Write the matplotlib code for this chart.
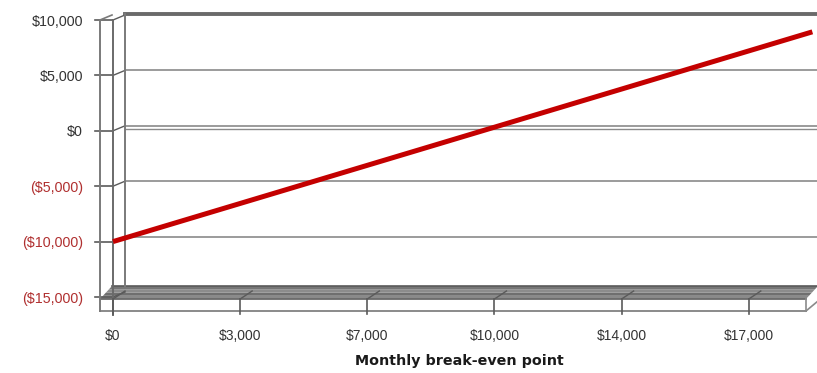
import numpy as np
import matplotlib
matplotlib.use("Agg")
import matplotlib.pyplot as plt
from matplotlib.transforms import IdentityTransform

# break-even data: monthly sales step vs. profit
sales_idx = [0, 1, 2, 3, 4, 5, 6, 7, 8, 9, 10, 11]
profit    = [-10000, -8279, -6558, -4837, -3116, -1395, 326, 2047, 3768, 5489, 7210, 8931]
xtick_idx    = [0, 2, 4, 6, 8, 10]
xtick_labels = ["$0", "$3,000", "$7,000", "$10,000", "$14,000", "$17,000"]
ytick_vals   = [10000, 5000, 0, -5000, -10000, -15000]
ytick_labels = ["$10,000", "$5,000", "$0", "($5,000)", "($10,000)", "($15,000)"]

W, H, DPI = 817, 373, 100
GRID  = "#8a8a8a"
EDGE  = "#5a5a5a"
RED   = "#c40000"
NEG   = "#b03030"
DX, DY = 12, 5          # depth offset of the back wall (pixels)

plt.rcParams["font.family"] = ["Liberation Sans", "DejaVu Sans"]

fig = plt.figure(figsize=(W / DPI, H / DPI), dpi=DPI)
ax = fig.add_axes([113 / W, (H - 297) / H, 693 / W, 277 / H])
ax.set_xlim(0, 10.9)
ax.set_ylim(-15000, 10000)
ax.patch.set_alpha(0)
for s in ax.spines.values():
    s.set_visible(False)

ax.set_yticks(ytick_vals)
ax.set_yticklabels(ytick_labels, fontsize=10.3)
for lab, v in zip(ax.get_yticklabels(), ytick_vals):
    lab.set_color(NEG if v < 0 else "#333333")
ax.set_xticks(xtick_idx)
ax.set_xticklabels(xtick_labels, fontsize=10, color="#333333")
ax.tick_params(axis="y", length=0, pad=21.5)
ax.tick_params(axis="x", length=0, pad=23)
ax.set_xlabel("Monthly break-even point", fontsize=10.3, fontweight="bold",
              family=["DejaVu Sans"], color="#1a1a1a", labelpad=8)


def px(xi, v):
    # data -> display pixels
    return ax.transData.transform((xi, v))


def seg(xs, ys, **kw):
    kw.setdefault("color", GRID)
    kw.setdefault("lw", 1.2)
    ax.plot(xs, ys, transform=IdentityTransform(), clip_on=False, **kw)


x0, _ = px(0, 0)
xend, _ = px(10.9, 0)
_, yfl = px(0, -15000)
_, ytop = px(0, 10000)

# floor top face, shaded in bands
fy = yfl - 2
FD = 13
shades = ["#8a8a8a", "#6f6f6f", "#8c8c8c", "#767676"]
for k, c in enumerate(shades):
    a = k / len(shades)
    b = (k + 1) / len(shades)
    poly = plt.Polygon([[x0 - 13 + DX * a, fy + FD * a], [xend + DX * a, fy + FD * a],
                        [xend + DX * b, fy + FD * b], [x0 - 13 + DX * b, fy + FD * b]],
                       closed=True, facecolor=c, edgecolor="none",
                       transform=IdentityTransform(), clip_on=False, zorder=1)
    ax.add_patch(poly)
seg([x0 - 13 + DX, xend + DX], [fy + FD, fy + FD], color=EDGE, lw=1.2)
# floor front face
seg([x0 - 13, xend], [fy - 12, fy - 12], color=GRID, lw=1.4)
seg([x0 - 13, xend], [fy, fy], color="#6a6a6a", lw=1.3)
seg([xend, xend], [fy - 12, fy], color=GRID)
seg([xend, xend + DX], [fy - 12, fy - 2], color=GRID)
seg([xend + DX, xend + DX], [fy - 2, fy + FD], color=GRID)

# back wall gridlines and left wall ticks
for v in ytick_vals:
    _, y = px(0, v)
    if v > -15000:
        lw = 2.8 if v == 10000 else 1.2
        col = "#6a6a6a" if v == 10000 else GRID
        seg([x0 + DX, xend + DX + 20], [y + DY + (1.5 if v == 10000 else 0)] * 2, color=col, lw=lw)
        if v == 0:
            seg([x0 + DX, xend + DX + 20], [y + 1.5] * 2, color=GRID, lw=1.0)
    seg([x0 - 18, x0], [y, y], color=EDGE, lw=1.2)
    seg([x0, x0 + DX], [y, y + DY], color=EDGE, lw=1.0)

# left wall verticals
seg([x0 - 13, x0 - 13], [fy - 12, ytop], color="#7a7a7a", lw=1.4)
seg([x0, x0], [fy - 16, ytop], color="#6a6a6a", lw=1.4)
seg([x0 + DX, x0 + DX], [fy + FD, ytop + DY + 1], color="#7a7a7a", lw=1.4)
seg([x0 - 13, x0 - 1], [ytop, ytop + DY], color="#7a7a7a", lw=1.2)

# category ticks on the floor
for i in xtick_idx:
    x, _ = px(i, 0)
    seg([x, x], [fy - 15, fy], color=EDGE, lw=1.2)
    seg([x, x + DX], [fy, fy + 8], color=EDGE, lw=1.0)

# profit line
ax.plot(sales_idx, profit, color=RED, lw=3.6, solid_capstyle="butt", clip_on=False, zorder=5)

fig.savefig("out.png", dpi=DPI)
